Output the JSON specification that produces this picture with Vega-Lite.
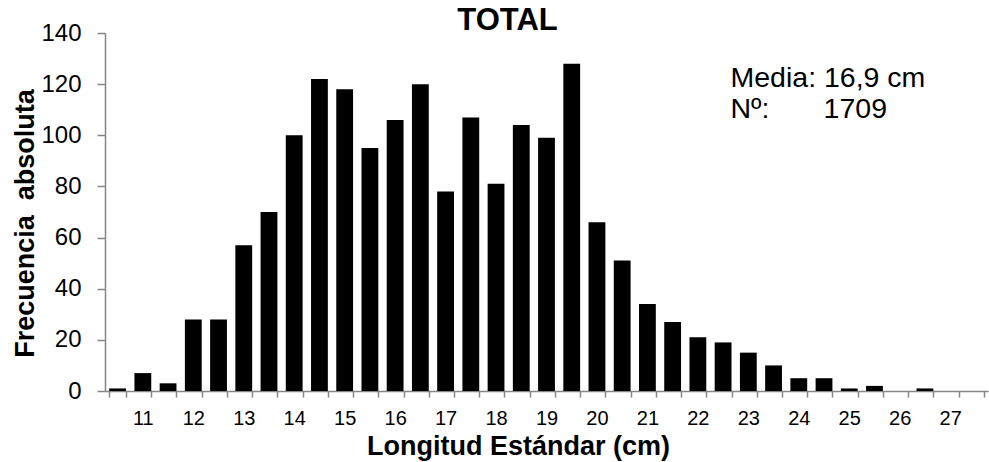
{
  "$schema": "https://vega.github.io/schema/vega-lite/v6.json",
  "width": 883,
  "height": 358,
  "autosize": {"type": "none"},
  "padding": {"left": 105, "top": 33, "right": 1, "bottom": 71},
  "background": "white",
  "config": {"view": {"stroke": null}, "font": "Liberation Sans"},
  "title": {"text": "TOTAL", "font": "Liberation Sans", "fontSize": 31, "fontWeight": "bold", "color": "black", "anchor": "middle", "dx": -39, "dy": 16, "offset": 0},
  "data": {"values": [
    {"longitud": 10.5, "frecuencia": 1},
    {"longitud": 11, "frecuencia": 7},
    {"longitud": 11.5, "frecuencia": 3},
    {"longitud": 12, "frecuencia": 28},
    {"longitud": 12.5, "frecuencia": 28},
    {"longitud": 13, "frecuencia": 57},
    {"longitud": 13.5, "frecuencia": 70},
    {"longitud": 14, "frecuencia": 100},
    {"longitud": 14.5, "frecuencia": 122},
    {"longitud": 15, "frecuencia": 118},
    {"longitud": 15.5, "frecuencia": 95},
    {"longitud": 16, "frecuencia": 106},
    {"longitud": 16.5, "frecuencia": 120},
    {"longitud": 17, "frecuencia": 78},
    {"longitud": 17.5, "frecuencia": 107},
    {"longitud": 18, "frecuencia": 81},
    {"longitud": 18.5, "frecuencia": 104},
    {"longitud": 19, "frecuencia": 99},
    {"longitud": 19.5, "frecuencia": 128},
    {"longitud": 20, "frecuencia": 66},
    {"longitud": 20.5, "frecuencia": 51},
    {"longitud": 21, "frecuencia": 34},
    {"longitud": 21.5, "frecuencia": 27},
    {"longitud": 22, "frecuencia": 21},
    {"longitud": 22.5, "frecuencia": 19},
    {"longitud": 23, "frecuencia": 15},
    {"longitud": 23.5, "frecuencia": 10},
    {"longitud": 24, "frecuencia": 5},
    {"longitud": 24.5, "frecuencia": 5},
    {"longitud": 25, "frecuencia": 1},
    {"longitud": 25.5, "frecuencia": 2},
    {"longitud": 26, "frecuencia": 0},
    {"longitud": 26.5, "frecuencia": 1},
    {"longitud": 27, "frecuencia": 0},
    {"longitud": 27.5, "frecuencia": 0}
  ]},
  "layer": [
    {
      "mark": {"type": "bar", "color": "black"},
      "encoding": {
        "x": {
          "field": "longitud",
          "type": "ordinal",
          "scale": {
            "domain": [10.5, 11, 11.5, 12, 12.5, 13, 13.5, 14, 14.5, 15, 15.5, 16, 16.5, 17, 17.5, 18, 18.5, 19, 19.5, 20, 20.5, 21, 21.5, 22, 22.5, 23, 23.5, 24, 24.5, 25, 25.5, 26, 26.5, 27, 27.5],
            "paddingInner": 0.3333,
            "paddingOuter": 0.1667
          },
          "axis": {
            "title": "Longitud Estándar (cm)",
            "titleFont": "Liberation Sans",
            "titleFontSize": 27,
            "titleFontWeight": "bold",
            "titleColor": "black",
            "titleBaseline": "alphabetic",
            "titleAnchor": "middle",
            "titleAlign": "center",
            "titleX": 413,
            "titleY": 63,
            "labelAngle": 0,
            "labelExpr": "datum.value % 1 == 0 ? datum.value : ''",
            "labelFont": "Liberation Sans",
            "labelFontSize": 20,
            "labelColor": "black",
            "labelBaseline": "alphabetic",
            "labelPadding": 27,
            "tickBand": "extent",
            "tickSize": 6,
            "tickColor": "#868686",
            "domainColor": "#868686",
            "domainWidth": 1.5,
            "tickWidth": 1.5,
            "grid": false
          }
        },
        "y": {
          "field": "frecuencia",
          "type": "quantitative",
          "scale": {"domain": [0, 140]},
          "axis": {
            "title": "Frecuencia\u00a0 absoluta",
            "titleFont": "Liberation Sans",
            "titleFontSize": 27,
            "titleFontWeight": "bold",
            "titleColor": "black",
            "titleAngle": 270,
            "titleBaseline": "alphabetic",
            "titleAlign": "center",
            "titleX": -72,
            "titleY": 190,
            "values": [0, 20, 40, 60, 80, 100, 120, 140],
            "labelFont": "Liberation Sans",
            "labelFontSize": 24,
            "labelColor": "black",
            "labelPadding": 16,
            "tickSize": 8,
            "tickColor": "#868686",
            "domainColor": "#868686",
            "domainWidth": 1.5,
            "tickWidth": 1.5,
            "grid": false
          }
        }
      }
    },
    {
      "data": {"values": [{"texto": "Media: 16,9 cm"}]},
      "mark": {"type": "text", "font": "Liberation Sans", "fontSize": 28.5, "align": "left", "baseline": "alphabetic", "color": "black", "dx": -1},
      "encoding": {
        "x": {"datum": 22.5, "type": "ordinal", "bandPosition": 1},
        "y": {"datum": 119, "type": "quantitative"},
        "text": {"field": "texto"}
      }
    },
    {
      "data": {"values": [{"texto": "Nº:"}]},
      "mark": {"type": "text", "font": "Liberation Sans", "fontSize": 28.5, "align": "left", "baseline": "alphabetic", "color": "black", "dx": -1},
      "encoding": {
        "x": {"datum": 22.5, "type": "ordinal", "bandPosition": 1},
        "y": {"datum": 106.6, "type": "quantitative"},
        "text": {"field": "texto"}
      }
    },
    {
      "data": {"values": [{"texto": "1709"}]},
      "mark": {"type": "text", "font": "Liberation Sans", "fontSize": 28.5, "align": "left", "baseline": "alphabetic", "color": "black", "dx": 8},
      "encoding": {
        "x": {"datum": 24.5, "type": "ordinal", "bandPosition": 0},
        "y": {"datum": 106.6, "type": "quantitative"},
        "text": {"field": "texto"}
      }
    }
  ]
}
